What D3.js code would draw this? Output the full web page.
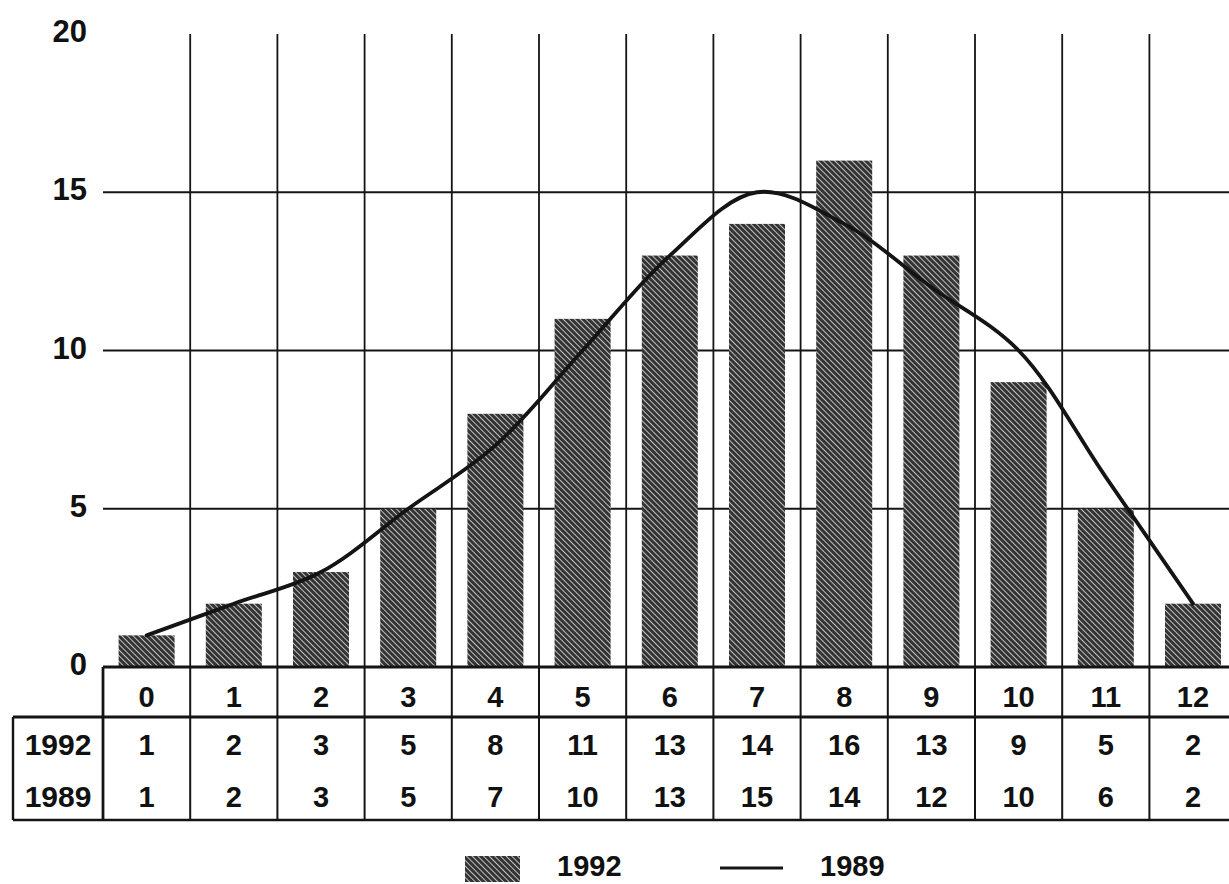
<!DOCTYPE html>
<html>
<head>
<meta charset="utf-8">
<script src="https://cdn.jsdelivr.net/npm/d3@7"></script>
<style>
  html, body { margin: 0; padding: 0; background: #fff; }
  svg { display: block; }
  text { font-family: "Liberation Sans", Arial, Helvetica, sans-serif; font-weight: bold; fill: #111; }
</style>
</head>
<body>
<svg id="chart" width="1229" height="884"></svg>
<script>
// ---- data ----
const categories = ["0","1","2","3","4","5","6","7","8","9","10","11","12"];
const values1992 = [1, 2, 3, 5, 8, 11, 13, 14, 16, 13, 9, 5, 2];
const values1989 = [1, 2, 3, 5, 7, 10, 13, 15, 14, 12, 10, 6, 2];
const seriesNames = ["1992", "1989"];
const yTicks = [0, 5, 10, 15, 20];

// ---- layout ----
const svg = d3.select("#chart");
const plotLeft = 103, colStep = 87.2;
const plotRight = plotLeft + colStep * categories.length;
const yTop = 34, yZero = 667;
const headerBottom = 717, tableBottom = 820, labelLeft = 13;
const ink = "#141414";

const x = d3.scaleBand().domain(categories).range([plotLeft, plotRight]).padding(0);
const y = d3.scaleLinear().domain([0, 20]).range([yZero, yTop]);
const barW = 56;

// pattern
const defs = svg.append("defs");
const pat = defs.append("pattern")
  .attr("id", "hatch").attr("patternUnits", "userSpaceOnUse")
  .attr("width", 4).attr("height", 4)
  .attr("patternTransform", "rotate(-45)");
pat.append("rect").attr("width", 4).attr("height", 4).attr("fill", "#333");
pat.append("line").attr("x1", 0).attr("y1", 0).attr("x2", 0).attr("y2", 4)
  .attr("stroke", "#f0f0f0").attr("stroke-width", 1.5);

// grid: horizontal lines (5,10,15)
svg.append("g").selectAll("line").data(yTicks.filter(t => t > 0 && t < 20)).join("line")
  .attr("x1", plotLeft).attr("x2", 1229)
  .attr("y1", d => y(d)).attr("y2", d => y(d))
  .attr("stroke", ink).attr("stroke-width", 1.8);

// grid: vertical lines at column boundaries
const bounds = categories.map(c => x(c)).concat([plotRight]);
svg.append("g").selectAll("line").data(bounds.slice(1)).join("line")
  .attr("x1", d => d).attr("x2", d => d)
  .attr("y1", y(20)).attr("y2", yZero)
  .attr("stroke", ink).attr("stroke-width", 1.8);

// y tick labels
svg.append("g").selectAll("text").data(yTicks).join("text")
  .attr("x", 87).attr("y", d => y(d) + 8)
  .attr("text-anchor", "end")
  .attr("font-size", 31)
  .text(d => d);

// bars 1992
svg.append("g").selectAll("rect").data(categories).join("rect")
  .attr("x", c => x(c) + (x.bandwidth() - barW) / 2)
  .attr("width", barW)
  .attr("y", (c, i) => y(values1992[i]))
  .attr("height", (c, i) => yZero - y(values1992[i]))
  .attr("fill", "url(#hatch)");

// line 1989
const line = d3.line()
  .x((d, i) => x(categories[i]) + x.bandwidth() / 2)
  .y(d => y(d))
  .curve(d3.curveCatmullRom.alpha(0.5));
svg.append("path").datum(values1989)
  .attr("d", line).attr("fill", "none")
  .attr("stroke", ink).attr("stroke-width", 3.8)
  .attr("stroke-linecap", "round");

// ---- data table ----
const tg = svg.append("g");
tg.append("line").attr("x1", plotLeft).attr("x2", 1229).attr("y1", yZero).attr("y2", yZero)
  .attr("stroke", ink).attr("stroke-width", 3);
tg.append("line").attr("x1", labelLeft).attr("x2", 1229).attr("y1", headerBottom).attr("y2", headerBottom)
  .attr("stroke", ink).attr("stroke-width", 2.8);
tg.append("line").attr("x1", labelLeft).attr("x2", 1229).attr("y1", tableBottom).attr("y2", tableBottom)
  .attr("stroke", ink).attr("stroke-width", 2.4);
tg.append("line").attr("x1", labelLeft).attr("x2", labelLeft).attr("y1", headerBottom).attr("y2", tableBottom)
  .attr("stroke", ink).attr("stroke-width", 2.4);
tg.selectAll("line.v").data(bounds).join("line").attr("class", "v")
  .attr("x1", d => d).attr("x2", d => d)
  .attr("y1", yZero).attr("y2", tableBottom)
  .attr("stroke", ink).attr("stroke-width", (d, i) => i === 0 ? 2.8 : 2);

// header row text
tg.selectAll("text.h").data(categories).join("text").attr("class", "h")
  .attr("x", c => x(c) + x.bandwidth() / 2).attr("y", 707)
  .attr("text-anchor", "middle")
  .attr("font-size", 29).text(c => c);

const rowsBase = [755, 807];
[values1992, values1989].forEach((vals, r) => {
  tg.append("text").attr("x", 58).attr("y", rowsBase[r])
    .attr("text-anchor", "middle")
    .attr("font-size", 30).text(seriesNames[r]);
  tg.selectAll("text.r" + r).data(vals).join("text").attr("class", "r" + r)
    .attr("x", (v, i) => x(categories[i]) + x.bandwidth() / 2).attr("y", rowsBase[r])
    .attr("text-anchor", "middle")
    .attr("font-size", 29).text(v => v);
});

// ---- legend ----
const lg = svg.append("g");
lg.append("rect").attr("x", 465).attr("y", 856).attr("width", 55).attr("height", 26)
  .attr("fill", "url(#hatch)");
lg.append("text").attr("x", 557).attr("y", 876)
  .attr("font-size", 29).text(seriesNames[0]);
lg.append("line").attr("x1", 720).attr("x2", 783).attr("y1", 868).attr("y2", 868)
  .attr("stroke", ink).attr("stroke-width", 3);
lg.append("text").attr("x", 820).attr("y", 876)
  .attr("font-size", 29).text(seriesNames[1]);
</script>
</body>
</html>
